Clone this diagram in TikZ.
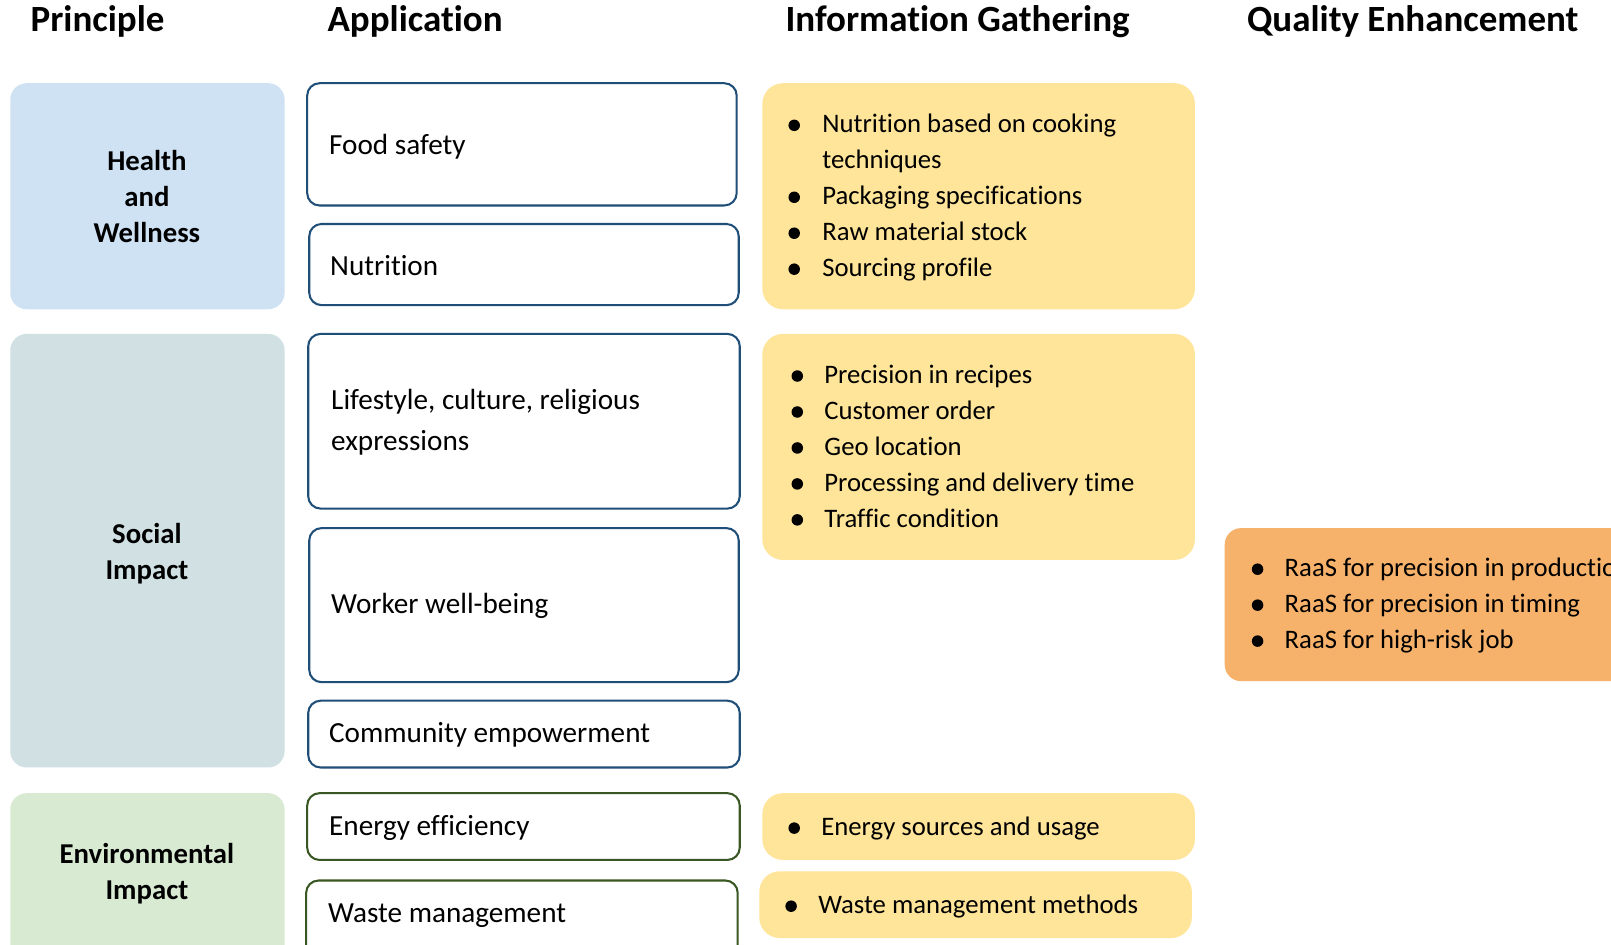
\documentclass[tikz,border=0pt]{standalone}
\usepackage{fontspec}
\setmainfont[Ligatures=NoCommon]{Carlito}
\definecolor{hwblue}{HTML}{CFE2F3}
\definecolor{socgray}{HTML}{D0E0E3}
\definecolor{envgreen}{HTML}{D9EAD3}
\definecolor{infoyellow}{HTML}{FFE599}
\definecolor{qorange}{HTML}{F6B26B}
\definecolor{appblue}{HTML}{1F4E79}
\definecolor{appgreen}{HTML}{385723}
\newcommand\bitem[5]{%
  \node[bdot] (#1d) at (#2,#4-7) {};
  \node[itext] (#1) at (#3,#4) {#5};}
\begin{document}
\begin{tikzpicture}[x=0.5pt,y=-0.5pt,
  title/.style={font=\fontsize{18}{22}\selectfont\bfseries, anchor=base, inner sep=0pt},
  ptext/.style={font=\fontsize{14}{17.5}\selectfont\bfseries, anchor=base, inner sep=0pt},
  atext/.style={font=\fontsize{14.2}{19.5}\selectfont, anchor=base west, inner sep=0pt},
  itext/.style={font=\fontsize{13}{17.5}\selectfont, anchor=base west, inner sep=0pt},
  bdot/.style={fill=black, circle, inner sep=0pt, minimum size=5.6pt},
  pbox/.style={rounded corners=8pt},
  abox/.style={draw=appblue, line width=1pt, fill=white, rounded corners=6pt},
  gbox/.style={draw=appgreen, line width=1pt, fill=white, rounded corners=6pt},
  ibox/.style={fill=infoyellow, rounded corners=10pt},
  qbox/.style={fill=qorange, rounded corners=8pt}]
\useasboundingbox (0,0) rectangle (1568,919);
\fill[white] (0,0) rectangle (1568,919);

% titles
\node[title] (t1) at (95,31) {Principle};
\node[title] (t2) at (404,31) {Application};
\node[title] (t3) at (932,31) {Information Gathering};
\node[title] (t4) at (1375,31) {Quality Enhancement};

% principle boxes
\path[pbox, fill=hwblue] (10,81) rectangle (277,301);
\path[pbox, fill=socgray] (10,325) rectangle (277,747);
\path[pbox, fill=envgreen] (10,772) rectangle (277,960);
\node[ptext] (p1a) at (143,166) {Health};
\node[ptext] (p1b) at (143,201) {and};
\node[ptext] (p1c) at (143,236) {Wellness};
\node[ptext] (p2a) at (143,529) {Social};
\node[ptext] (p2b) at (143,564) {Impact};
\node[ptext] (p3a) at (143,840) {Environmental};
\node[ptext] (p3b) at (143,875) {Impact};

% application boxes
\path[abox] (299,81) rectangle (717,200);
\path[abox] (301,218) rectangle (719,297);
\path[abox] (300,325) rectangle (720,495);
\path[abox] (301,514) rectangle (719,664);
\path[abox] (300,682) rectangle (720,747);
\path[gbox] (299,772) rectangle (720,837);
\path[gbox] (298,857) rectangle (718,960);
\node[atext] (a1) at (320,150) {Food safety};
\node[atext] (a2) at (321,268) {Nutrition};
\node[atext] (a3a) at (322,399) {Lifestyle, culture, religious};
\node[atext] (a3b) at (322,438) {expressions};
\node[atext] (a4) at (322,597) {Worker well-being};
\node[atext] (a5) at (320,723) {Community empowerment};
\node[atext] (a6) at (320,813) {Energy efficiency};
\node[atext] (a7) at (319,898) {Waste management};

% information boxes
\path[ibox] (742,81) rectangle (1163,301);
\path[ibox] (742,325) rectangle (1163,545);
\path[ibox] (742,772) rectangle (1163,837);
\path[ibox] (739,848) rectangle (1160,913);
\bitem{i11}{773}{800}{129}{Nutrition based on cooking}
\node[itext] (i11b) at (800,164) {techniques};
\bitem{i12}{773}{800}{199}{Packaging specifications}
\bitem{i13}{773}{800}{234}{Raw material stock}
\bitem{i14}{773}{800}{269}{Sourcing profile}
\bitem{i21}{776}{802}{373}{Precision in recipes}
\bitem{i22}{776}{802}{408}{Customer order}
\bitem{i23}{776}{802}{443}{Geo location}
\bitem{i24}{776}{802}{478}{Processing and delivery time}
\bitem{i25}{776}{802}{513}{Traffic condition}
\bitem{i31}{773}{799}{813}{Energy sources and usage}
\bitem{i41}{770}{796}{889}{Waste management methods}

% quality enhancement
\path[qbox] (1192,514) rectangle (1640,663);
\bitem{q1}{1224}{1250}{561}{RaaS for precision in production}
\bitem{q2}{1224}{1250}{596}{RaaS for precision in timing}
\bitem{q3}{1224}{1250}{631}{RaaS for high-risk job}
\end{tikzpicture}
\end{document}
